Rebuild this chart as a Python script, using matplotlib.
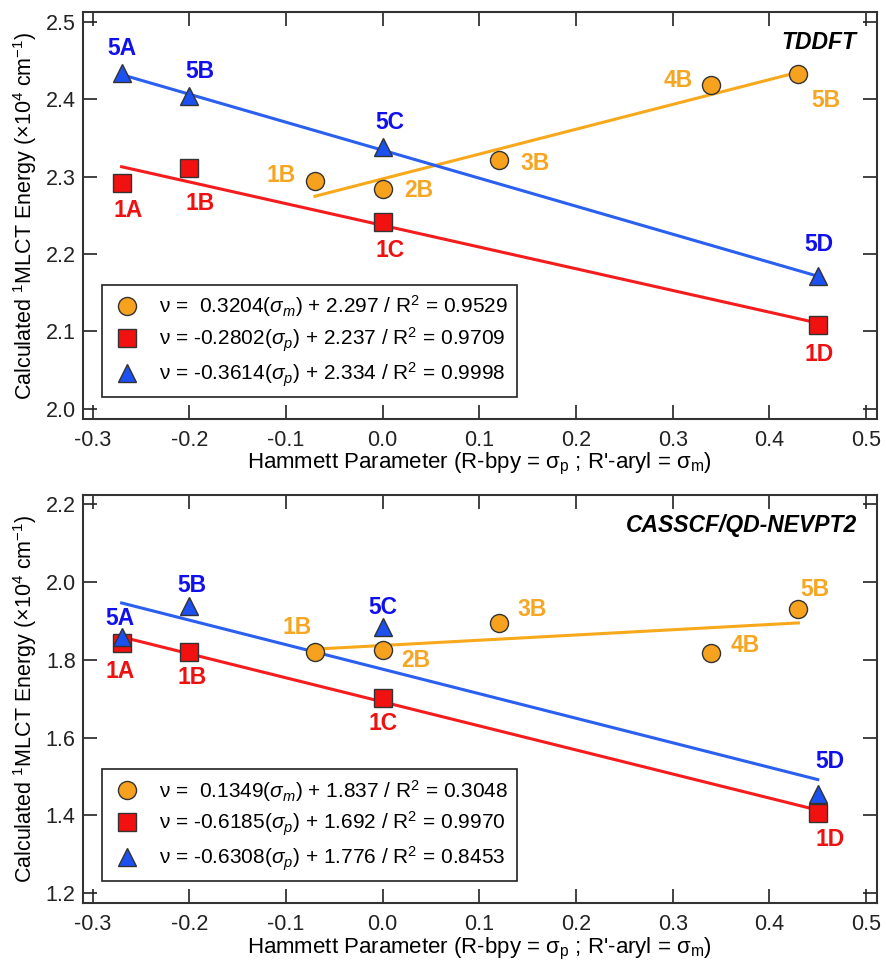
import matplotlib
matplotlib.use("Agg")
import matplotlib.pyplot as plt
import numpy as np

plt.rcParams['font.family'] = ['Liberation Sans', 'DejaVu Sans']
plt.rcParams['mathtext.fontset'] = 'custom'
plt.rcParams['mathtext.rm'] = 'Liberation Sans'
plt.rcParams['mathtext.it'] = 'Liberation Sans:italic'
plt.rcParams['mathtext.bf'] = 'Liberation Sans:bold'

# ---------------- data ----------------
# x: Hammett parameters
x_aryl = [-0.07, 0.00, 0.12, 0.34, 0.43]          # sigma_m (orange circles)
x_bpy = [-0.27, -0.20, 0.00, 0.45]                # sigma_p (red squares, blue triangles)

aryl_labels = ["1B", "2B", "3B", "4B", "5B"]
red_labels = ["1A", "1B", "1C", "1D"]
blue_labels = ["5A", "5B", "5C", "5D"]

# TDDFT panel
tddft_orange = [2.294, 2.284, 2.321, 2.418, 2.432]
tddft_red = [2.292, 2.311, 2.241, 2.108]
tddft_blue = [2.434, 2.404, 2.338, 2.172]
tddft_fit_slope = [0.3204, -0.2802, -0.3614]
tddft_fit_icpt = [2.297, 2.237, 2.334]
tddft_legend = [r"ν =  0.3204($\sigma_m$) + 2.297 / R$^2$ = 0.9529",
                r"ν = -0.2802($\sigma_p$) + 2.237 / R$^2$ = 0.9709",
                r"ν = -0.3614($\sigma_p$) + 2.334 / R$^2$ = 0.9998"]

# CASSCF/QD-NEVPT2 panel
cas_orange = [1.821, 1.826, 1.894, 1.818, 1.932]
cas_red = [1.844, 1.821, 1.702, 1.406]
cas_blue = [1.858, 1.938, 1.885, 1.456]
cas_fit_slope = [0.1349, -0.6185, -0.6308]
cas_fit_icpt = [1.837, 1.692, 1.776]
cas_legend = [r"ν =  0.1349($\sigma_m$) + 1.837 / R$^2$ = 0.3048",
              r"ν = -0.6185($\sigma_p$) + 1.692 / R$^2$ = 0.9970",
              r"ν = -0.6308($\sigma_p$) + 1.776 / R$^2$ = 0.8453"]

xticks = [-0.3, -0.2, -0.1, 0.0, 0.1, 0.2, 0.3, 0.4, 0.5]
tddft_yticks = [2.0, 2.1, 2.2, 2.3, 2.4, 2.5]
cas_yticks = [1.2, 1.4, 1.6, 1.8, 2.0, 2.2]

# ---------------- styles ----------------
C_OR_FILL, C_OR_LINE, C_OR_TXT = '#f6a21e', '#f7a81b', '#f5a623'
C_RD_FILL, C_RD_LINE, C_RD_TXT = '#f21111', '#f41c1c', '#ee1111'
C_BL_FILL, C_BL_LINE, C_BL_TXT = '#1c50f0', '#2a5ff0', '#1010ee'
EDGE = '#333333'

fig = plt.figure(figsize=(8.87, 9.63), dpi=100)
ax1 = fig.add_axes([0.0932, 0.5649, 0.8952, 0.4223])
ax2 = fig.add_axes([0.0932, 0.0620, 0.8952, 0.4240])

# label offsets in pixels: (dx, dy)
top_offsets = {
    'orange': [(-34, 6), (36, -2), (36, -3), (-33, 5), (28, -26)],
    'red': [(6, -28), (11, -35), (7, -28), (1, -29)],
    'blue': [(0, 24), (11, 24), (7, 25), (1, 31)],
}
bot_offsets = {
    'orange': [(-18, 24), (33, -11), (33, 14), (34, 7), (17, 19)],
    'red': [(-2, -29), (3, -26), (0, -26), (12, -26)],
    'blue': [(-2, 19), (3, 21), (0, 19), (12, 32)],
}

LBL_FS = 16.5


def draw(ax, orange, red, blue, slopes, icpts, legend, yticks, ylim, title, offs):
    # fit lines over data ranges
    xs_o = np.array([min(x_aryl), max(x_aryl)])
    xs_p = np.array([min(x_bpy), max(x_bpy)])
    ax.plot(xs_o, slopes[0] * xs_o + icpts[0], color=C_OR_LINE, lw=2.2, zorder=2)
    ax.plot(xs_p, slopes[1] * xs_p + icpts[1], color=C_RD_LINE, lw=2.2, zorder=2)
    ax.plot(xs_p, slopes[2] * xs_p + icpts[2], color=C_BL_LINE, lw=2.2, zorder=2)

    h1, = ax.plot(x_aryl, orange, 'o', ms=13, mfc=C_OR_FILL, mec=EDGE, mew=1.0,
                  ls='none', zorder=4, label=legend[0])
    h2, = ax.plot(x_bpy, red, 's', ms=12.5, mfc=C_RD_FILL, mec=EDGE, mew=1.0,
                  ls='none', zorder=4, label=legend[1])
    h3, = ax.plot(x_bpy, blue, '^', ms=13.5, mfc=C_BL_FILL, mec=EDGE, mew=1.0,
                  ls='none', zorder=5, label=legend[2])

    for xv, yv, lab, (dx, dy) in zip(x_aryl, orange, aryl_labels, offs['orange']):
        ax.annotate(lab, (xv, yv), xytext=(dx, dy), textcoords='offset pixels',
                    ha='center', va='center', color=C_OR_TXT, fontsize=LBL_FS,
                    fontweight='bold', zorder=6)
    for xv, yv, lab, (dx, dy) in zip(x_bpy, red, red_labels, offs['red']):
        ax.annotate(lab, (xv, yv), xytext=(dx, dy), textcoords='offset pixels',
                    ha='center', va='center', color=C_RD_TXT, fontsize=LBL_FS,
                    fontweight='bold', zorder=6)
    for xv, yv, lab, (dx, dy) in zip(x_bpy, blue, blue_labels, offs['blue']):
        ax.annotate(lab, (xv, yv), xytext=(dx, dy), textcoords='offset pixels',
                    ha='center', va='center', color=C_BL_TXT, fontsize=LBL_FS,
                    fontweight='bold', zorder=6)

    leg = ax.legend(handles=[h1, h2, h3], loc='lower left',
                    bbox_to_anchor=(0.024, 0.054), fontsize=15, frameon=True,
                    fancybox=False, edgecolor='#222222', framealpha=1,
                    handlelength=1.6, handletextpad=0.75, borderpad=0.4,
                    labelspacing=0.3, borderaxespad=0)
    leg.get_frame().set_linewidth(1.2)

    ax.set_xlim(-0.3103, 0.511)
    ax.set_ylim(*ylim)
    ax.set_xticks(xticks)
    ax.set_xticklabels([f"{t:.1f}" for t in xticks])
    ax.set_yticks(yticks)
    ax.set_yticklabels([f"{t:.1f}" for t in yticks])
    ax.tick_params(direction='in', length=10, width=1.2, top=True, right=True,
                   labelsize=15.5, colors='#222222', pad=8)
    ax.tick_params(axis='y', pad=5)
    for s in ax.spines.values():
        s.set_linewidth(1.5)
        s.set_color('#333333')
    ax.set_xlabel(r"Hammett Parameter (R-bpy = σ$_\mathrm{p}$ ; R'-aryl = σ$_\mathrm{m}$)",
                  fontsize=16, labelpad=0)
    ax.set_ylabel(r"Calculated $^\mathrm{1}$MLCT Energy (×10$^\mathrm{4}$ cm$^\mathrm{-1}$)",
                  fontsize=15.5, labelpad=5)
    ax.text(0.975, 0.925, title, transform=ax.transAxes, ha='right', va='center',
            fontsize=16.5, fontweight='bold', fontstyle='italic')


draw(ax1, tddft_orange, tddft_red, tddft_blue, tddft_fit_slope, tddft_fit_icpt,
     tddft_legend, tddft_yticks, (1.987, 2.512), "TDDFT", top_offsets)
draw(ax2, cas_orange, cas_red, cas_blue, cas_fit_slope, cas_fit_icpt,
     cas_legend, cas_yticks, (1.174, 2.224), "CASSCF/QD-NEVPT2", bot_offsets)

fig.savefig("out.png", dpi=100)
